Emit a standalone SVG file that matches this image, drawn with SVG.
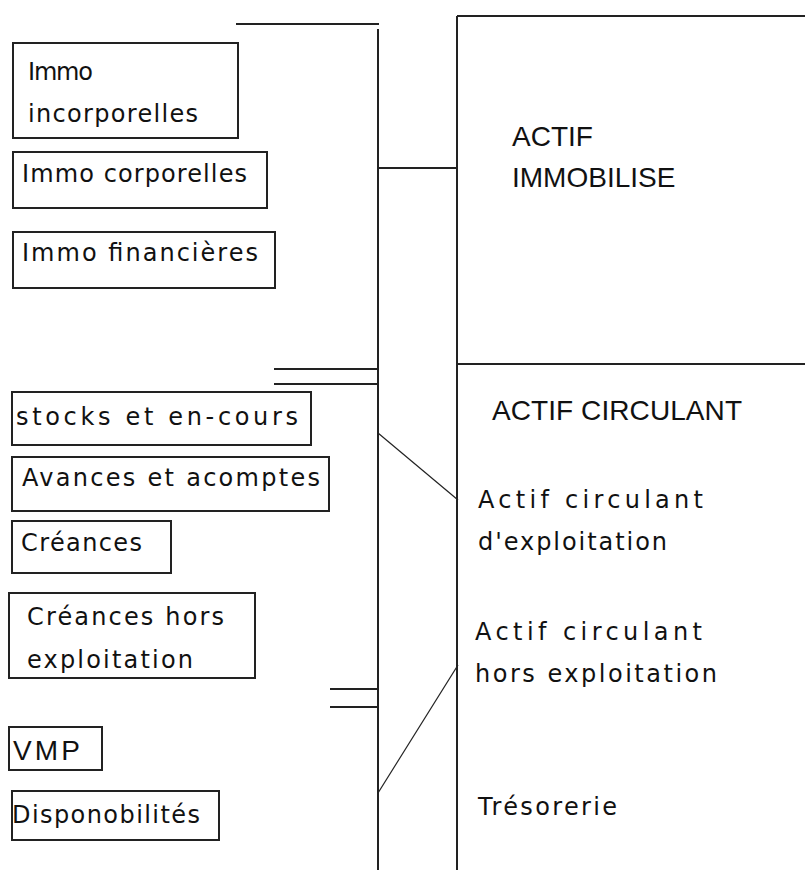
<svg xmlns="http://www.w3.org/2000/svg" width="805" height="870" viewBox="0 0 805 870">
<style>
.bx{fill:#fff;stroke:#222;stroke-width:2}
.ln{stroke:#222;stroke-width:2;fill:none}
.dg{stroke:#222;stroke-width:1.2;fill:none}
.t{font-family:"DejaVu Sans","Liberation Sans",sans-serif;font-size:24px;fill:#111}
.c{font-family:"Liberation Sans",Arial,sans-serif;font-size:28px;fill:#111}
</style>
<rect width="805" height="870" fill="#fff"/>
<g id="connectors">
<line class="ln" x1="236" y1="24" x2="379" y2="24"/>
<line class="ln" x1="378" y1="29" x2="378" y2="870"/>
<line class="ln" x1="378" y1="168" x2="457" y2="168"/>
<line class="ln" x1="274" y1="369" x2="378" y2="369"/>
<line class="ln" x1="274" y1="384" x2="378" y2="384"/>
<line class="ln" x1="330" y1="689" x2="378" y2="689"/>
<line class="ln" x1="330" y1="707" x2="378" y2="707"/>
<line class="dg" x1="378" y1="433" x2="458" y2="500"/>
<line class="dg" x1="378" y1="793" x2="458" y2="665"/>
</g>
<g id="actif-panel">
<line class="ln" x1="457" y1="16" x2="805" y2="16"/>
<line class="ln" x1="457" y1="16" x2="457" y2="870"/>
<line class="ln" x1="457" y1="364" x2="805" y2="364"/>
</g>
<g id="actif-immobilise">
<text class="c" x="512" y="146">ACTIF</text>
<text class="c" x="512" y="187">IMMOBILISE</text>
</g>
<g id="actif-circulant">
<text class="c" x="492" y="420" textLength="250">ACTIF CIRCULANT</text>
</g>
<g id="acte">
<text class="t" x="478" y="508" textLength="225">Actif circulant</text>
<text class="t" x="478" y="550" textLength="189">d'exploitation</text>
</g>
<g id="achex">
<text class="t" x="475" y="640" textLength="227">Actif circulant</text>
<text class="t" x="475" y="682" textLength="242">hors exploitation</text>
</g>
<g id="tresorerie">
<text class="t" x="478" y="815" textLength="139">Trésorerie</text>
</g>
<g id="immo-incorporelles">
<rect class="bx" x="13" y="43" width="225" height="95"/>
<text class="t" x="28" y="80" textLength="65">Immo</text>
<text class="t" x="28" y="122" textLength="170">incorporelles</text>
</g>
<g id="immo-corporelles">
<rect class="bx" x="13" y="152" width="254" height="56"/>
<text class="t" x="22" y="182" textLength="225">Immo corporelles</text>
</g>
<g id="immo-financieres">
<rect class="bx" x="13" y="232" width="262" height="56"/>
<text class="t" x="22" y="261" textLength="236">Immo financières</text>
</g>
<g id="stocks">
<rect class="bx" x="12" y="392" width="299" height="53"/>
<text class="t" x="16" y="425" textLength="282">stocks et en-cours</text>
</g>
<g id="avances">
<rect class="bx" x="12" y="457" width="317" height="54"/>
<text class="t" x="22" y="486" textLength="298">Avances et acomptes</text>
</g>
<g id="creances">
<rect class="bx" x="12" y="521" width="159" height="52"/>
<text class="t" x="21" y="551" textLength="121">Créances</text>
</g>
<g id="creances-hors">
<rect class="bx" x="9" y="593" width="246" height="85"/>
<text class="t" x="27" y="625" textLength="197">Créances hors</text>
<text class="t" x="27" y="668" textLength="166">exploitation</text>
</g>
<g id="vmp">
<rect class="bx" x="9" y="727" width="93" height="43"/>
<text class="c" x="13" y="760" textLength="67">VMP</text>
</g>
<g id="disponibilites">
<rect class="bx" x="12" y="791" width="207" height="49"/>
<text class="t" x="12" y="823" textLength="188">Disponobilités</text>
</g>
</svg>
